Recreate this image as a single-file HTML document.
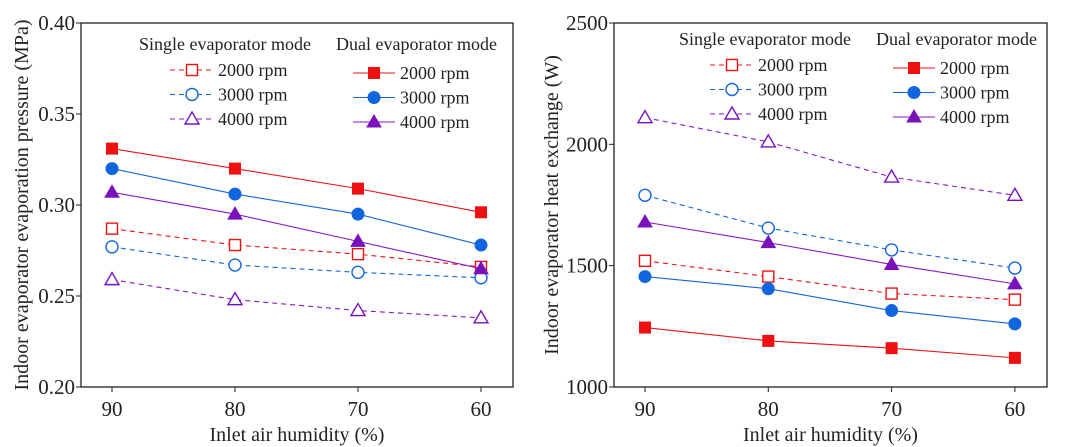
<!DOCTYPE html>
<html><head><meta charset="utf-8"><style>
body{margin:0;background:#fff}
svg{display:block;font-family:"Liberation Serif",serif}
</style></head><body>
<svg id="s" width="1080" height="447"></svg>
<script>
const xCats=[90,80,70,60];
const leftTicks=[0.20,0.25,0.30,0.35,0.40];
const rightTicks=[1000,1500,2000,2500];
const Lsingle2000=[0.287,0.278,0.273,0.266];
const Lsingle3000=[0.277,0.267,0.263,0.260];
const Lsingle4000=[0.259,0.248,0.242,0.238];
const Ldual2000=[0.331,0.320,0.309,0.296];
const Ldual3000=[0.320,0.306,0.295,0.278];
const Ldual4000=[0.307,0.295,0.280,0.265];
const Rsingle2000=[1520,1455,1385,1360];
const Rsingle3000=[1790,1655,1565,1490];
const Rsingle4000=[2110,2010,1865,1790];
const Rdual2000=[1245,1190,1160,1120];
const Rdual3000=[1455,1405,1315,1260];
const Rdual4000=[1680,1595,1505,1425];
const rpmLabels=["2000 rpm","3000 rpm","4000 rpm"];

const NS="http://www.w3.org/2000/svg";
const svg=document.getElementById('s');
function mk(t,a,p){const e=document.createElementNS(NS,t);for(const k in a)e.setAttribute(k,a[k]);(p||svg).appendChild(e);return e;}
const colors=["#e8141a","#1565d8","#8a17c2"];
const mcol=["#ee1111","#1166dd","#7a11bb"];

function marker(g,kind,x,y,fill,c){
  let e;
  if(kind==0) e=mk('rect',{x:x-5.5,y:y-5.5,width:11,height:11},g);
  else if(kind==1) e=mk('circle',{cx:x,cy:y,r:6},g);
  else e=mk('polygon',{points:`${x},${y-7} ${x+7},${y+5} ${x-7},${y+5}`},g);
  e.setAttribute('fill',fill?c:'#fff');e.setAttribute('stroke',c);e.setAttribute('stroke-width',fill?1:1.4);
  
  
}

function panel(cfg){
  const g=mk('g',{});
  
  
  const {L,R,T,B,x0,dx,ymin,ymax}=cfg;
  const xs=i=>x0+i*dx;
  const ys=v=>B-(v-ymin)/(ymax-ymin)*(B-T);
  const box=mk('rect',{x:L,y:T,width:R-L,height:B-T,fill:'none',stroke:'#222','stroke-width':1.3},g);
  
  cfg.ticks.forEach(v=>{
    mk('line',{x1:L,x2:L-5,y1:ys(v),y2:ys(v),stroke:'#222'},g);
    const t=mk('text',{x:L-6,y:ys(v)+7,'text-anchor':'end','font-size':21,fill:'#222'},g);
    t.textContent=cfg.fmt(v);
    
  });
  xCats.forEach((c,i)=>{
    mk('line',{x1:xs(i),x2:xs(i),y1:B,y2:B+5,stroke:'#222'},g);
    const t=mk('text',{x:xs(i),y:B+29,'text-anchor':'middle','font-size':21,fill:'#222'},g);
    t.textContent=c;
    
  });
  const xt=mk('text',{x:(L+R)/2,y:441,'text-anchor':'middle','font-size':20,fill:'#222'},g);
  xt.textContent='Inlet air humidity (%)';
  
  const yt=mk('text',{x:0,y:0,'text-anchor':'middle','font-size':20,fill:'#222',transform:`translate(${cfg.ytx},${(T+B)/2}) rotate(-90)`},g);
  yt.textContent=cfg.ytitle;
  
  cfg.series.forEach(s=>{
    const pts=s.d.map((v,i)=>xs(i)+','+ys(v)).join(' ');
    const pl=mk('polyline',{points:pts,fill:'none',stroke:colors[s.k],'stroke-width':1.1,'stroke-dasharray':s.f?'':'5,4'},g);
    
    s.d.forEach((v,i)=>marker(g,s.k,xs(i),ys(v),s.f,mcol[s.k]));
  });
  const lg=mk('g',{},g);
  
  const t1=mk('text',{x:cfg.lx,y:cfg.ly,'font-size':18,fill:'#222'},lg);t1.textContent='Single evaporator mode';
  const t2=mk('text',{x:cfg.lx+197,y:cfg.ly,'font-size':18,fill:'#222'},lg);t2.textContent='Dual evaporator mode';
  for(let k=0;k<3;k++){
    const y1=cfg.ly+20+k*24.5, y2=cfg.ly+23+k*24.5;
    const a=cfg.lx+31;
    mk('line',{x1:a,x2:a+43,y1:y1,y2:y1,stroke:colors[k],'stroke-dasharray':'5,4'},lg);
    marker(lg,k,a+22,y1,false,mcol[k]);
    const e1=mk('text',{x:a+48,y:y1+6,'font-size':18,fill:'#222'},lg);e1.textContent=rpmLabels[k];
    
    const b=cfg.lx+214;
    mk('line',{x1:b,x2:b+42,y1:y2,y2:y2,stroke:colors[k]},lg);
    marker(lg,k,b+21,y2,true,mcol[k]);
    const e2=mk('text',{x:b+47,y:y2+6,'font-size':18,fill:'#222'},lg);e2.textContent=rpmLabels[k];
    
  }
}
panel({name:'pressure-chart',L:81,R:513,T:23,B:387,x0:112,dx:123,ymin:0.20,ymax:0.40,ticks:leftTicks,fmt:v=>v.toFixed(2),
  ytitle:'Indoor evaporator evaporation pressure (MPa)',ytx:28,lx:139,ly:50,
  series:[{d:Lsingle2000,k:0,f:false,n:'single-2000-line'},{d:Lsingle3000,k:1,f:false,n:'single-3000-line'},{d:Lsingle4000,k:2,f:false,n:'single-4000-line'},
  {d:Ldual2000,k:0,f:true,n:'dual-2000-line'},{d:Ldual3000,k:1,f:true,n:'dual-3000-line'},{d:Ldual4000,k:2,f:true,n:'dual-4000-line'}]});
panel({name:'heat-exchange-chart',L:614,R:1047,T:23,B:387,x0:645,dx:123.3,ymin:1000,ymax:2500,ticks:rightTicks,fmt:v=>String(v),
  ytitle:'Indoor evaporator heat exchange (W)',ytx:558,lx:679,ly:45,
  series:[{d:Rsingle2000,k:0,f:false,n:'single-2000-line'},{d:Rsingle3000,k:1,f:false,n:'single-3000-line'},{d:Rsingle4000,k:2,f:false,n:'single-4000-line'},
  {d:Rdual2000,k:0,f:true,n:'dual-2000-line'},{d:Rdual3000,k:1,f:true,n:'dual-3000-line'},{d:Rdual4000,k:2,f:true,n:'dual-4000-line'}]});
</script>
</body></html>
